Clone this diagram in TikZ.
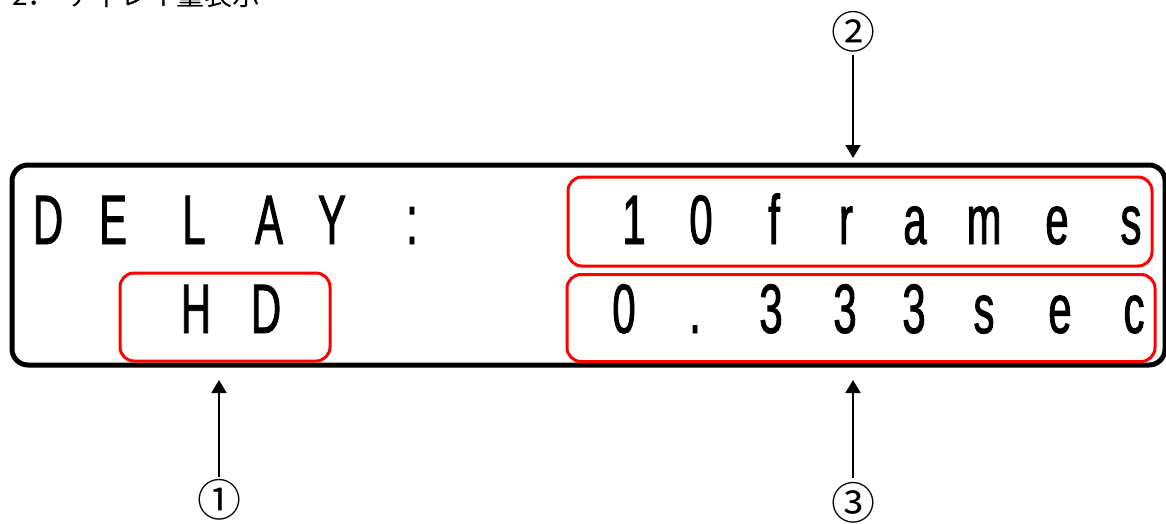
\documentclass[tikz,border=0pt]{standalone}
\usepackage{fontspec}
\newfontfamily\lcdfont[FakeStretch=0.6,FakeBold=1.2]{Liberation Sans}
\newfontfamily\jpfont{Noto Sans CJK JP}
\usetikzlibrary{arrows.meta}
\begin{document}
\begin{tikzpicture}[x=1pt,y=-1pt,
  lcdch/.style={font=\lcdfont\fontsize{70}{70}\selectfont, anchor=base, inner sep=0pt},
  redbox/.style={draw=red, line width=3pt, rounded corners=14pt, inner sep=0pt},
  lcdframe/.style={draw=black, line width=5pt, rounded corners=16pt, inner sep=0pt},
  num/.style={font=\jpfont\fontsize{44}{44}\selectfont, inner sep=0pt},
  arr/.style={-{Triangle[length=13pt,width=15pt]}, line width=1.8pt},
  title/.style={font=\jpfont\fontsize{28}{28}\selectfont, anchor=base west, inner sep=0pt}]
\useasboundingbox (0,0) rectangle (1166,524);
% title
\node[title] (ttl) at (12,6) {2．\hspace{0.4em}ディレイ量表示};
% LCD frame
\node[lcdframe, minimum width=1153pt, minimum height=200pt] (lcd) at (588.5,265) {};
% red boxes
\node[redbox, minimum width=210pt, minimum height=88pt] (hdbox) at (225,317) {};
\node[redbox, minimum width=584pt, minimum height=89pt] (frbox) at (860,221.5) {};
\node[redbox, minimum width=588pt, minimum height=87pt] (secbox) at (861,318) {};
% row 1
\foreach \x/\c [count=\i] in {48/D,113/E,194/L,269/A,332/Y,412/:}
  \node[lcdch] (r1c\i) at (\x,244) {\c};
\foreach \x/\c [count=\i] in {634/1,701/0,774/f,846/r,915/a,984/m,1057/e,1131/s}
  \node[lcdch] (fr\i) at (\x,244) {\c};
% row 2
\foreach \x/\c [count=\i] in {196/H,266/D}
  \node[lcdch] (hd\i) at (\x,333) {\c};
\foreach \x/\c [count=\i] in {624/0,695/.,771/3,845/3,914/3,984/s,1060/e,1134/c}
  \node[lcdch] (sc\i) at (\x,333) {\c};
% callouts
\node[num] (n2) at (853,32) {②};
\node[num] (n1) at (219,500) {①};
\node[num] (n3) at (853,503) {③};
\coordinate (s2) at (853,55);
\coordinate (t2) at (853,158);
\coordinate (s1) at (219,477);
\coordinate (t1) at (219,380);
\coordinate (s3) at (853,478);
\coordinate (t3) at (853,380);
\draw[arr] (s2) -- (t2);
\draw[arr] (s1) -- (t1);
\draw[arr] (s3) -- (t3);
\end{tikzpicture}
\end{document}
